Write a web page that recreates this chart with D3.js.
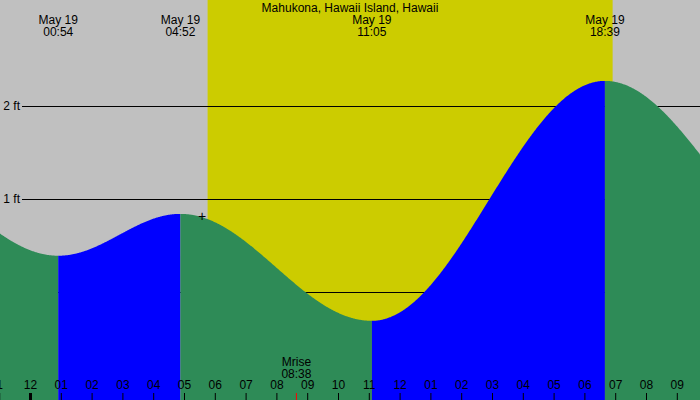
<!DOCTYPE html><html><head><meta charset="utf-8">
<script src="https://cdn.jsdelivr.net/npm/d3@7"></script>
<style>body{margin:0}svg{display:block;font-family:"Liberation Sans",Arial,sans-serif}</style></head><body>
<script>
const title="Mahukona, Hawaii Island, Hawaii";
// extremes: hours since 00:00 May 19, height ft (first and last are outside view)
const extTimes=[-4.8,0.9,4.867,11.083,18.65,25.5];
const extHeights=[1.35,0.39,0.84,-0.31,2.27,0.4];
const extLabels=[null,"00:54","04:52","11:05","18:39",null];
const sunrise=5.75, sunset=18.9;
const moonrise=8.633, moonriseLabel="08:38";
const yTicks=[0,1,2];
const hourLabels=["1","12","01","02","03","04","05","06","07","08","09","10","11","12","01","02","03","04","05","06","07","08","09"];
const W=700,H=400;
const x=d3.scaleLinear().domain([0,1]).range([30.5,61.3]);
const xs=t=>x(t);
const y=d3.scaleLinear().domain([0,2]).range([292,106]);
const svg=d3.select("body").append("svg").attr("width",W).attr("height",H);
svg.append("rect").attr("width",W).attr("height",H).attr("fill","#c0c0c0");
svg.append("rect").attr("x",xs(sunrise)).attr("width",xs(sunset)-xs(sunrise)).attr("height",H).attr("fill","#cccc00");
yTicks.forEach(v=>{
 svg.append("line").attr("x1",22).attr("x2",W).attr("y1",y(v)+0.5).attr("y2",y(v)+0.5).attr("stroke","#000").attr("shape-rendering","crispEdges");
 svg.append("text").attr("x",20).attr("y",y(v)+4).attr("text-anchor","end").attr("font-size",12).text(v+" ft");
});
function h(t){
 for(let i=0;i<extTimes.length-1;i++){
  if(t>=extTimes[i]&&t<=extTimes[i+1]){
   const f=(t-extTimes[i])/(extTimes[i+1]-extTimes[i]);
   return extHeights[i+1]+(extHeights[i]-extHeights[i+1])*(1+Math.cos(Math.PI*f))/2;
  }}
 return 0;
}
const t0=x.invert(0), t1=x.invert(W);
for(let i=0;i<extTimes.length-1;i++){
 const a=Math.max(extTimes[i],t0),b=Math.min(extTimes[i+1],t1);
 if(a>=b)continue;
 const pts=d3.range(a,b,0.02).concat([b]);
 const area=d3.area().x(t=>xs(t)).y0(H).y1(t=>y(h(t)));
 svg.append("path").attr("d",area(pts)).attr("fill",extHeights[i+1]>extHeights[i]?"#0000ff":"#2e8b57");
}
svg.append("text").attr("x",350).attr("y",12).attr("text-anchor","middle").attr("font-size",12).text(title);
extTimes.forEach((t,i)=>{ if(!extLabels[i])return;
 const g=svg.append("text").attr("text-anchor","middle").attr("font-size",12);
 g.append("tspan").attr("x",xs(t)).attr("y",24).text("May 19");
 g.append("tspan").attr("x",xs(t)).attr("y",36).text(extLabels[i]);
});
svg.append("text").attr("x",202).attr("y",221).attr("text-anchor","middle").attr("font-size",14).text("+");
svg.append("text").attr("x",xs(moonrise)).attr("y",366).attr("text-anchor","middle").attr("font-size",12).text("Mrise");
svg.append("text").attr("x",xs(moonrise)).attr("y",378).attr("text-anchor","middle").attr("font-size",12).text(moonriseLabel);
svg.append("line").attr("x1",xs(moonrise)).attr("x2",xs(moonrise)).attr("y1",393).attr("y2",H).attr("stroke","#ff0000");
hourLabels.forEach((l,i)=>{const t=i-1;
 svg.append("text").attr("x",xs(t)).attr("y",389).attr("text-anchor","middle").attr("font-size",12).text(l);
 svg.append("line").attr("x1",xs(t)).attr("x2",xs(t)).attr("y1",393).attr("y2",H).attr("stroke","#000").attr("stroke-width",t===0?3:1);
});
</script></body></html>
